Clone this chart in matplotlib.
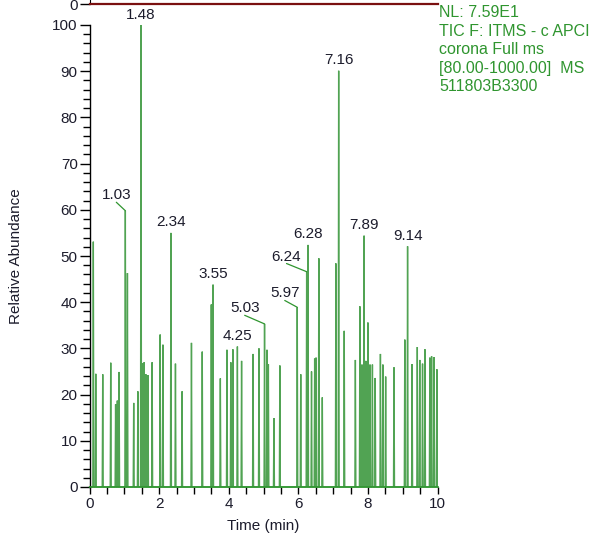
import numpy as np
import matplotlib
matplotlib.use("Agg")
import matplotlib.pyplot as plt
from matplotlib.ticker import MultipleLocator

plt.rcParams['font.family'] = ['Liberation Sans', 'DejaVu Sans']

# Chromatogram peaks: retention time (min) and relative abundance (%)
peak_times = [
    0.11, 0.18, 0.38, 0.61, 0.75, 0.80, 0.85, 1.03, 1.09, 1.27, 1.39, 1.48,
    1.52, 1.57, 1.62, 1.68, 1.80, 2.03, 2.11, 2.34, 2.47, 2.66, 2.93, 3.24,
    3.50, 3.55, 3.76, 3.95, 4.06, 4.12, 4.25, 4.37, 4.70, 4.87, 5.03, 5.10,
    5.14, 5.30, 5.47, 5.97, 6.07, 6.24, 6.28, 6.38, 6.47, 6.51, 6.59, 6.69,
    7.08, 7.16, 7.32, 7.64, 7.77, 7.83, 7.89, 7.94, 8.00, 8.06, 8.13, 8.21,
    8.36, 8.43, 8.51, 8.75, 9.06, 9.14, 9.27, 9.42, 9.49, 9.57, 9.64, 9.78,
    9.83, 9.90, 9.98,
]
peak_heights = [
    53.1, 24.5, 24.4, 26.9, 17.9, 18.7, 24.9, 59.8, 46.3, 18.2, 20.7, 100.0,
    26.8, 27.0, 24.4, 24.2, 27.0, 33.0, 30.8, 55.0, 26.7, 20.7, 31.2, 29.3,
    39.5, 43.8, 23.5, 29.7, 27.0, 29.8, 30.4, 27.3, 28.8, 30.0, 35.3, 29.7,
    26.6, 14.9, 26.3, 38.9, 24.4, 46.6, 52.4, 25.0, 27.8, 28.0, 49.5, 19.4,
    48.4, 90.1, 33.8, 27.5, 39.1, 26.5, 54.4, 27.3, 35.6, 26.5, 26.5, 23.6,
    28.8, 26.5, 23.9, 25.9, 31.9, 52.1, 26.6, 30.3, 27.5, 26.7, 29.8, 28.0,
    28.3, 28.1, 25.5,
]

# Labelled peaks: label text is the retention time of the peak it marks
labelled = ["1.03", "1.48", "2.34", "3.55", "4.25", "5.03", "5.97", "6.24",
            "6.28", "7.16", "7.89", "9.14"]
# Labels that sit beside their peak with a leader line (offset in points)
leader_offsets = {
    "1.03": (-6.5, 6.1),
    "5.03": (-14.3, 6.2),
    "5.97": (-9.0, 4.9),
    "6.24": (-14.5, 5.9),
}

header_lines = ["NL: 7.59E1", "TIC F: ITMS - c APCI", "corona Full ms",
                "[80.00-1000.00]  MS", "511803B3300"]

W, H = 591, 535
fig = plt.figure(figsize=(W / 100, H / 100), dpi=100)

green = "#2f952f"
trace_green = "#17851a"
ink = "#1c1c2c"

# main axes
x0, x1 = 89.5, 437.5
y0, y1 = 487, 25
ax = fig.add_axes([x0 / W, (H - y0) / H, (x1 - x0) / W, (y0 - y1) / H])

# build a spike trace from the peak list
half_w = 0.014
xs, ys = [0.0], [0.0]
for t, h in zip(peak_times, peak_heights):
    xs += [t - half_w, t, t + half_w]
    ys += [0.0, h, 0.0]
xs.append(10.0)
ys.append(0.0)
ax.plot(xs, ys, color=trace_green, lw=1.0, alpha=0.75, clip_on=False,
        solid_joinstyle="miter")

ax.set_xlim(0, 10)
ax.set_ylim(0, 100)
for s in ("top", "right"):
    ax.spines[s].set_visible(False)
ax.spines["left"].set_color("black")
ax.spines["left"].set_linewidth(1.0)
ax.spines["bottom"].set_color(green)
ax.spines["bottom"].set_linewidth(1.2)

ax.xaxis.set_major_locator(MultipleLocator(2))
ax.xaxis.set_minor_locator(MultipleLocator(0.5))
ax.yaxis.set_major_locator(MultipleLocator(10))
ax.yaxis.set_minor_locator(MultipleLocator(2))
ax.tick_params(axis="y", which="major", direction="out", length=7.5, width=1.0,
               color="black", labelsize=11, labelcolor=ink, pad=1)
ax.tick_params(axis="y", which="minor", direction="out", length=5, width=1.0,
               color="black")
ax.tick_params(axis="x", which="both", direction="out", length=5, width=1.0,
               color="black", labelsize=11, labelcolor=ink, pad=2.5)

# peak labels
lookup = dict(zip(peak_times, peak_heights))
for lab in labelled:
    t = float(lab)
    h = lookup[t]
    if lab in leader_offsets:
        dx, dy = leader_offsets[lab]
        ax.annotate(lab, xy=(t, h), xytext=(dx, dy), textcoords="offset points",
                    ha="center", va="bottom", fontsize=11, color=ink,
                    annotation_clip=False,
                    arrowprops=dict(arrowstyle="-", color=green, lw=0.9,
                                    shrinkA=0, shrinkB=0, patchA=None,
                                    relpos=(0.5, 0.0)))
    else:
        ax.annotate(lab, xy=(t, h), xytext=(0, 2.5), textcoords="offset points",
                    ha="center", va="bottom", fontsize=11, color=ink,
                    annotation_clip=False)

# axis titles
fig.text(16 / W, 1 - 256 / H, "Relative Abundance", rotation=90, ha="center",
         va="center", fontsize=11, color=ink)
fig.text(263 / W, 1 - 530 / H, "Time (min)", ha="center", va="baseline",
         fontsize=11, color=ink)

# scan header text
for i, line in enumerate(header_lines):
    fig.text(439 / W, 1 - (12.5 + 18.6 * i) / H, line, ha="left", va="center",
             fontsize=11.5, color=green)

# strip of the panel above (only its baseline is visible)
top = fig.add_axes([x0 / W, (H - 4) / H, (438 - x0) / W, 20 / H])
top.set_xlim(0, 10)
top.set_ylim(0, 100)
for s in ("top", "right"):
    top.spines[s].set_visible(False)
top.spines["bottom"].set_color("#7a1010")
top.spines["bottom"].set_linewidth(1.6)
top.spines["left"].set_color("black")
top.set_xticks([])
top.set_yticks([0])
top.tick_params(axis="y", direction="out", length=7.5, width=1.0,
                labelsize=11, labelcolor=ink, pad=1)

fig.savefig("out.png", dpi=100)
